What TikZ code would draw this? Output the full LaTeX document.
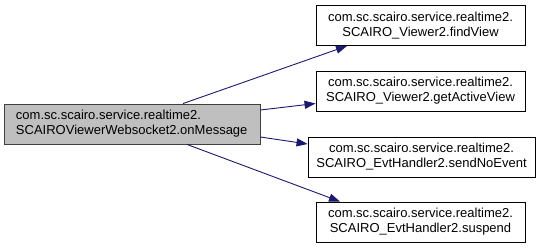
\documentclass[tikz,border=0pt]{standalone}
\usepackage{fontspec}
\setmainfont{Liberation Sans}
\usepackage{xcolor}
\usetikzlibrary{arrows.meta}

\definecolor{edgeblue}{HTML}{191970}
\definecolor{callergray}{HTML}{BFBFBF}
\definecolor{callerborder}{HTML}{404040}

\begin{document}
\begin{tikzpicture}[x=1pt,y=-1pt,call edge/.style={draw=edgeblue, line width=0.9pt, -{Triangle[length=11pt,width=8pt]}}]
    \tikzstyle{func node}=[draw=black,line width=0.9pt,fill=white,minimum height=40pt,inner xsep=0pt,align=center,font=\fontsize{13}{15}\selectfont]
    \tikzstyle{caller node}=[func node,draw=callerborder,fill=callergray,inner xsep=12pt,align=left]

    \useasboundingbox (0,0) rectangle (540,248);

    % caller
    \node(0)[caller node,text width=232pt] at (132,124) {com.sc.scairo.service.realtime2.\\SCAIROViewerWebsocket2.onMessage};
    % callees
    \node(1)[func node,text width=209pt] at (420.5,25.5) {com.sc.scairo.service.realtime2.\\SCAIRO\_Viewer2.findView};
    \node(2)[func node,text width=209pt] at (420.5,91) {com.sc.scairo.service.realtime2.\\SCAIRO\_Viewer2.getActiveView};
    \node(3)[func node,text width=227pt] at (421.5,157) {com.sc.scairo.service.realtime2.\\SCAIRO\_EvtHandler2.sendNoEvent};
    \node(4)[func node,text width=209pt] at (420.5,222) {com.sc.scairo.service.realtime2.\\SCAIRO\_EvtHandler2.suspend};

    % calls
    \draw[call edge]([xshift=51pt]0.north)--([xshift=-73.5pt]1.south);
    \draw[call edge]([yshift=14pt]0.east)--([yshift=-12.5pt]2.west);
    \draw[call edge]([yshift=-13pt]0.east)--([yshift=13pt]3.west);
    \draw[call edge]([xshift=55pt]0.south)--([xshift=-80.5pt]4.north);
\end{tikzpicture}
\end{document}
